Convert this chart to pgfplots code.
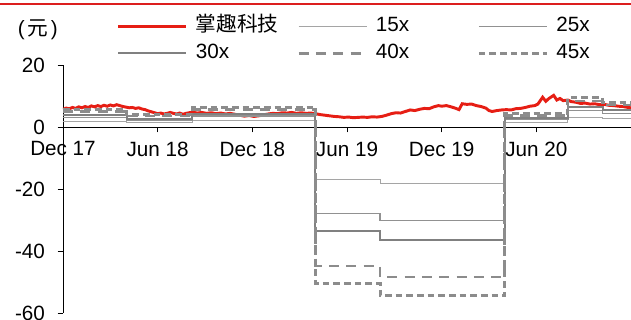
\documentclass[border=0pt]{standalone}
\usepackage{pgfplots}
\pgfplotsset{compat=1.18}
\usepackage{fontspec}
\setmainfont{Liberation Sans}
\newfontfamily\cjk{Noto Sans CJK SC}
\definecolor{zqred}{RGB}{230,30,20}
\definecolor{topred}{RGB}{220,30,30}
\definecolor{g15}{RGB}{165,165,165}
\definecolor{g25}{RGB}{145,145,145}
\definecolor{g30}{RGB}{128,128,128}
\definecolor{g40}{RGB}{140,140,140}
\definecolor{g45}{RGB}{140,140,140}
\newcommand{\fs}{\fontsize{15.5pt}{18pt}\selectfont}
\begin{document}
\begin{tikzpicture}
\useasboundingbox (-47.25pt,-5.25pt) rectangle (426pt,234.75pt);
\draw[topred, line width=1.5pt] (-47.25pt,231.4pt) -- (426pt,231.4pt);
\node[anchor=west, font=\fs, inner sep=0pt] at (-34pt,212.25pt) {(\hspace{2pt}{\cjk 元}\hspace{2pt})};
\begin{axis}[
  scale only axis, width=426pt, height=186pt,
  at={(0pt,0pt)}, anchor=south west,
  xmin=0, xmax=36, ymin=-60, ymax=20,
  axis x line=middle, axis y line=left,
  hide obscured x ticks=false, hide obscured y ticks=false,
  axis line style={-, black, line width=0.6pt},
  xtick={0,6,12,18,24,30},
  xticklabels={Dec 17,Jun 18,Dec 18,Jun 19,Dec 19,Jun 20},
  ytick={-60,-40,-20,0,20},
  yticklabels={-60,-40,-20,0,20},
  tick align=outside,
  major tick length=4pt,
  tick style={black, line width=0.6pt},
  tick label style={font=\fs},
  xticklabel style={yshift=-3.5pt},
  yticklabel style={xshift=-6pt},
  legend columns=3,
  legend style={draw=none, fill=none, at={(0.095,1.199)}, anchor=north west, inner sep=0pt, outer sep=0pt, column sep=0pt, row sep=4.25pt, font=\fs, nodes={inner sep=0pt, text height=12pt, text depth=4pt}},
  legend cell align=left,
  legend image code/.code={\draw[#1] (0pt,0pt) -- (51pt,0pt); \path (57pt,0pt);},
]
\addplot[zqred, line width=2.2pt] coordinates {
(0,5.7)(0.2,6.1)(0.4,5.9)(0.6,6.3)(0.8,6.0)(1.0,6.5)(1.2,6.2)(1.4,6.6)(1.6,6.3)(1.8,6.8)(2.0,6.5)(2.2,6.9)(2.4,6.6)(2.6,7.0)(2.8,6.7)(3.0,7.1)(3.2,6.8)(3.4,7.2)(3.6,6.9)(3.8,6.6)(4.0,6.4)(4.2,6.2)(4.4,6.3)(4.6,6.0)(4.8,6.2)(5.0,5.8)(5.2,5.6)(5.4,5.2)(5.6,4.9)(5.8,4.6)(6.0,4.3)(6.2,4.5)(6.4,4.2)(6.6,4.4)(6.8,4.7)(7.0,4.4)(7.2,4.2)(7.4,4.5)(7.6,4.1)(7.8,4.4)(8.0,4.6)(8.2,4.8)(8.5,4.5)(8.8,4.7)(9.1,4.4)(9.4,4.6)(9.7,4.3)(10.0,4.5)(10.3,4.2)(10.6,4.4)(10.9,4.1)(11.2,3.8)(11.5,3.5)(11.8,3.7)(12.1,3.4)(12.4,3.6)(12.7,3.9)(13.0,4.2)(13.3,4.4)(13.6,4.3)(13.9,4.6)(14.2,4.5)(14.5,4.7)(14.8,4.4)(15.1,4.6)(15.4,4.4)(15.7,4.5)(16.0,4.3)(16.3,4.0)(16.6,3.8)(16.9,3.6)(17.2,3.4)(17.5,3.3)(17.8,3.1)(18.1,3.2)(18.4,3.0)(18.7,3.1)(19.0,3.2)(19.3,3.1)(19.6,3.3)(19.9,3.2)
(20.2,3.4)(20.5,3.8)(20.8,4.3)(21.1,4.6)(21.4,4.5)(21.7,5.0)(22.0,5.5)(22.3,5.3)(22.6,5.7)(22.9,6.0)(23.2,5.9)(23.5,6.5)(23.8,6.9)(24.0,6.7)(24.3,6.9)(24.6,6.5)(24.9,6.0)(25.1,5.6)(25.3,7.5)(25.6,7.3)(25.9,7.4)(26.2,6.9)(26.5,6.6)(26.8,6.1)(27.0,5.3)(27.2,5.0)(27.5,5.3)(27.8,5.5)(28.1,5.6)(28.4,5.5)(28.7,5.9)(29.0,6.0)(29.3,6.3)(29.6,6.7)(29.9,6.9)(30.1,7.4)(30.4,9.6)(30.6,8.3)(30.8,9.2)(31.1,10.2)(31.3,8.7)(31.5,9.2)(31.7,8.5)(32.0,8.7)(32.2,8.2)(32.5,8.0)(32.8,7.6)(33.1,7.7)(33.4,7.4)(33.7,7.5)(34.0,7.2)(34.3,7.3)(34.6,7.0)(34.9,6.9)(35.2,6.7)(35.5,6.6)(35.8,6.3)(36.0,6.2)
};
\addlegendentry{\makebox[76pt][l]{\cjk 掌趣科技}}
\addplot[const plot, g15, line width=0.75pt] coordinates {
(0,1.88)(4.05,1.32)(8.2,2.1)(16,-16.8)(20.1,-18.15)(28,1.43)(32,3.15)(34.2,2.67)(36,2.67)};
\addlegendentry{\makebox[76pt][l]{15x}}
\addplot[const plot, g25, line width=1.0pt] coordinates {
(0,3.13)(4.05,2.2)(8.2,3.5)(16,-28.0)(20.1,-30.25)(28,2.38)(32,5.25)(34.2,4.45)(36,4.45)};
\addlegendentry{\makebox[76pt][l]{25x}}
\addplot[const plot, g30, line width=1.5pt] coordinates {
(0,3.75)(4.05,2.64)(8.2,4.2)(16,-33.6)(20.1,-36.3)(28,2.85)(32,6.3)(34.2,5.34)(36,5.34)};
\addlegendentry{\makebox[76pt][l]{30x}}
\addplot[const plot, g40, line width=2.0pt, dash pattern=on 7.5pt off 5.5pt] coordinates {
(0,5.0)(4.05,3.52)(8.2,5.6)(16,-44.8)(20.1,-48.4)(28,3.8)(32,8.4)(34.2,7.12)(36,7.12)};
\addlegendentry{\makebox[76pt][l]{40x}}
\addplot[const plot, g45, line width=2.3pt, dash pattern=on 5pt off 3pt] coordinates {
(0,5.63)(4.05,3.96)(8.2,6.3)(16,-50.4)(20.1,-54.45)(28,4.28)(32,9.45)(34.2,8.01)(36,8.01)};
\addlegendentry{\makebox[76pt][l]{45x}}
\end{axis}
\end{tikzpicture}
\end{document}
